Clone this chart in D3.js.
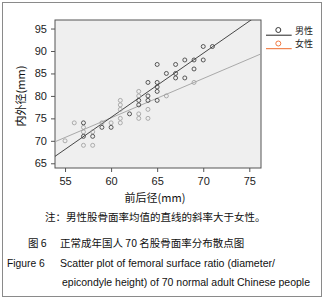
<!DOCTYPE html>
<html>
<head>
<meta charset="utf-8">
<script src="https://cdn.jsdelivr.net/npm/d3@7"></script>
<style>
  body { margin: 0; background: #fff; }
  text { font-family: "Liberation Sans", Arial, "Noto Sans CJK SC", sans-serif; }
</style>
</head>
<body>
<div id="chart"></div>
<script>
// male points (前后径, 内外径)
const maleX = [57, 57, 58, 59, 60, 62, 63, 63, 64, 64, 64, 65, 65, 65, 65, 65, 66, 67, 67, 67, 68, 68, 69, 69, 70, 70, 71];
const maleY = [74, 71, 71, 73, 73, 76, 79, 78, 83, 80, 79, 87, 83, 82, 81, 79, 85, 87, 85, 84, 88, 84, 88, 86, 91, 88, 91];
// female points
const femaleX = [55, 56, 57, 57, 57, 58, 58, 59, 60, 61, 61, 61, 61, 61, 63, 63, 63, 63, 64, 64, 66, 69];
const femaleY = [70, 74, 73, 72, 69, 72, 69, 74, 74, 79, 78, 77, 75, 74, 81, 80, 76, 75, 77, 75, 80, 83];
// fitted lines: [intercept, slope]
const maleFit = [-10.39, 1.427];
const femaleFit = [22.62, 0.875];

const xTicks = [55, 60, 65, 70, 75];
const yTicks = [65, 70, 75, 80, 85, 90, 95];
const legendLabels = ["男性", "女性"];

const W = 324, H = 302;
const plot = { left: 55, right: 261, top: 20, bottom: 168 };

const svg = d3.select("#chart").append("svg")
  .attr("width", W)
  .attr("height", H);

// outer frame
svg.append("rect")
  .attr("x", 2.5).attr("y", 2.5)
  .attr("width", 319).attr("height", 294)
  .attr("fill", "none")
  .attr("stroke", "#8a8a8a");

const x = d3.scaleLinear().domain([53.91, 76.27]).range([plot.left, plot.right]);
const y = d3.scaleLinear().domain([63.95, 96.9]).range([plot.bottom, plot.top]);

svg.append("rect")
  .attr("x", plot.left).attr("y", plot.top)
  .attr("width", plot.right - plot.left).attr("height", plot.bottom - plot.top)
  .attr("fill", "#efefef")
  .attr("stroke", "#555")
  .attr("stroke-width", 1);

// axes
const xAxis = svg.append("g")
  .attr("transform", `translate(0,${plot.bottom})`)
  .call(d3.axisBottom(x).tickValues(xTicks).tickSize(4).tickPadding(5));
const yAxis = svg.append("g")
  .attr("transform", `translate(${plot.left},0)`)
  .call(d3.axisLeft(y).tickValues(yTicks).tickSize(4).tickPadding(4));
[xAxis, yAxis].forEach(a => {
  a.select(".domain").remove();
  a.selectAll("line").attr("stroke", "#555");
  a.selectAll("text").attr("fill", "#222").style("font-size", "11px")
    .style("font-family", "'Liberation Sans', Arial, sans-serif");
});

// clip for fit lines
svg.append("clipPath").attr("id", "clip")
  .append("rect")
  .attr("x", plot.left).attr("y", plot.top)
  .attr("width", plot.right - plot.left).attr("height", plot.bottom - plot.top);

const xd = x.domain();
const fitLine = (fit, color) => {
  svg.append("line")
    .attr("clip-path", "url(#clip)")
    .attr("x1", x(xd[0])).attr("y1", y(fit[0] + fit[1] * xd[0]))
    .attr("x2", x(xd[1])).attr("y2", y(fit[0] + fit[1] * xd[1]))
    .attr("stroke", color)
    .attr("stroke-width", 0.9);
};
fitLine(femaleFit, "#a0a0a0");
fitLine(maleFit, "#333");

// points
svg.append("g").selectAll("circle")
  .data(femaleX.map((v, i) => [v, femaleY[i]]))
  .enter().append("circle")
  .attr("cx", d => x(d[0])).attr("cy", d => y(d[1]))
  .attr("r", 2)
  .attr("fill", "none")
  .attr("stroke", "#9a9a9a")
  .attr("stroke-width", 0.8);

svg.append("g").selectAll("circle")
  .data(maleX.map((v, i) => [v, maleY[i]]))
  .enter().append("circle")
  .attr("cx", d => x(d[0])).attr("cy", d => y(d[1]))
  .attr("r", 2)
  .attr("fill", "none")
  .attr("stroke", "#333")
  .attr("stroke-width", 0.8);

// legend
const legColors = ["#222", "#ee6a2c"];
legendLabels.forEach((lab, i) => {
  const g = svg.append("g").attr("transform", `translate(266,${30 + i * 13.5})`);
  g.append("circle").attr("cx", 12.3).attr("cy", 0).attr("r", 2.5)
    .attr("fill", "none").attr("stroke", legColors[i]).attr("stroke-width", 0.9);
  g.append("line").attr("x1", 0).attr("x2", 25.7).attr("y1", 5.2).attr("y2", 5.2)
    .attr("stroke", legColors[i]).attr("stroke-width", 1);
  g.append("text").attr("x", 29).attr("y", 3.5)
    .style("font-size", "9px").attr("fill", "#222")
    .style("font-family", "'Noto Sans CJK SC', sans-serif")
    .text(lab);
});

// axis titles
svg.append("text")
  .attr("transform", `translate(25,96) rotate(-90)`)
  .attr("text-anchor", "middle")
  .style("font-size", "11px").attr("fill", "#111")
  .style("font-family", "'Noto Sans CJK SC', sans-serif")
  .text("内外径(mm)");

svg.append("text")
  .attr("x", 155).attr("y", 202)
  .attr("text-anchor", "middle")
  .style("font-size", "11px").attr("fill", "#111")
  .style("font-family", "'Noto Sans CJK SC', sans-serif")
  .text("前后径(mm)");

// captions
const cjk = "'Noto Sans CJK SC', sans-serif";
svg.append("text").attr("x", 45).attr("y", 221)
  .style("font-size", "10.5px").style("font-family", cjk).attr("fill", "#111")
  .text("注：男性股骨面率均值的直线的斜率大于女性。");
svg.append("text").attr("x", 28).attr("y", 247)
  .style("font-size", "10.5px").style("font-family", cjk).attr("fill", "#111")
  .text("图 6");
svg.append("text").attr("x", 60).attr("y", 247)
  .style("font-size", "10.5px").style("font-family", cjk).attr("fill", "#111")
  .text("正常成年国人 70 名股骨面率分布散点图");
svg.append("text").attr("x", 7).attr("y", 267)
  .style("font-size", "10.3px").attr("fill", "#111")
  .text("Figure 6");
svg.append("text").attr("x", 60).attr("y", 267)
  .style("font-size", "10.3px").attr("fill", "#111")
  .attr("textLength", 215).attr("lengthAdjust", "spacingAndGlyphs")
  .text("Scatter plot of femoral surface ratio (diameter/");
svg.append("text").attr("x", 62).attr("y", 285.5)
  .style("font-size", "10.3px").attr("fill", "#111")
  .attr("textLength", 248).attr("lengthAdjust", "spacingAndGlyphs")
  .text("epicondyle height) of 70 normal adult Chinese people");
</script>
</body>
</html>
